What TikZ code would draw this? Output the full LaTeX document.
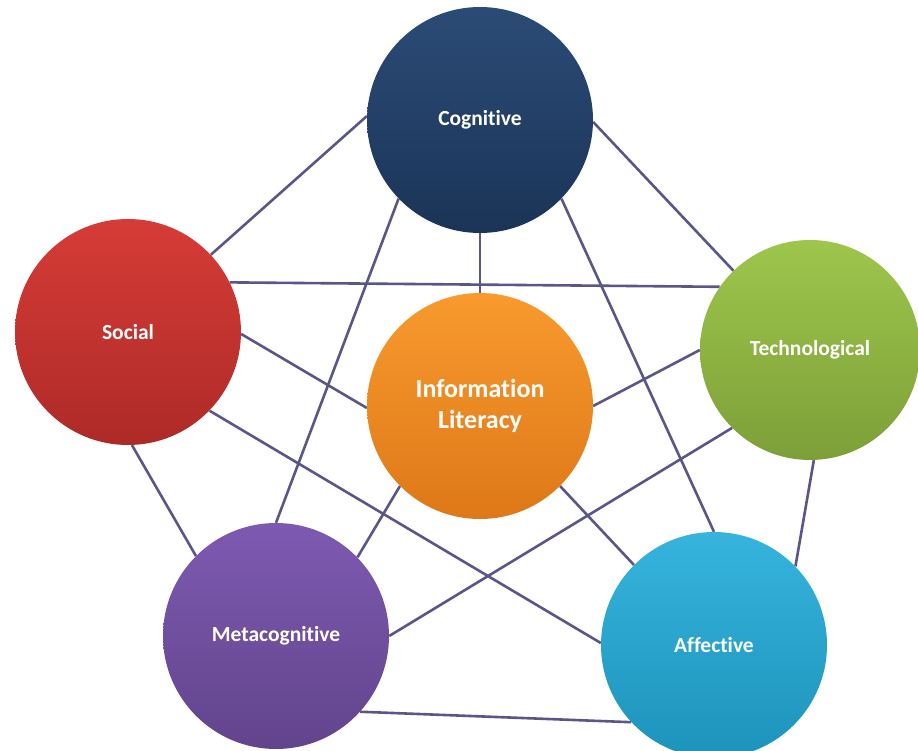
\documentclass[tikz,border=0pt]{standalone}
\usepackage{fontspec}
\setmainfont[Ligatures=NoCommon]{Carlito}
\usetikzlibrary{backgrounds}
\pgfdeclarelayer{bottom}
\pgfsetlayers{bottom,background,main}
\definecolor{linkc}{HTML}{5B5689}
\definecolor{cogT}{HTML}{2B4B76}
\definecolor{cogB}{HTML}{1B3457}
\definecolor{socT}{HTML}{D63C37}
\definecolor{socB}{HTML}{AE2A27}
\definecolor{tecT}{HTML}{9EC64C}
\definecolor{tecB}{HTML}{7D9F38}
\definecolor{infT}{HTML}{F89A2E}
\definecolor{infB}{HTML}{DE7818}
\definecolor{metT}{HTML}{7D5AB1}
\definecolor{metB}{HTML}{62448C}
\definecolor{affT}{HTML}{36B4DD}
\definecolor{affB}{HTML}{1D93BB}
\begin{document}
\begin{tikzpicture}[x=1pt,y=-1pt,
  bub/.style={circle, minimum size=226pt, inner sep=0pt, text=white,
    font=\bfseries\fontsize{21.5}{26}\selectfont, align=center},
  link/.style={draw=linkc, line width=2.6pt}]
\begin{pgfonlayer}{bottom}
\fill[white] (0,0) rectangle (918,751);
\end{pgfonlayer}
\useasboundingbox (0,0) rectangle (918,751);

\node[bub, top color=cogT, bottom color=cogB] (C) at (480,120) {Cognitive};
\node[bub, top color=socT, bottom color=socB] (S) at (128,332) {Social};
\node[bub, minimum size=220pt, top color=tecT, bottom color=tecB] (T) at (810,350) {Technological};
\node[bub, top color=infT, bottom color=infB,
  font=\bfseries\fontsize{26}{31}\selectfont] (I) at (480,406) {Information\\Literacy};
\node[bub, top color=metT, bottom color=metB] (M) at (276,636) {Metacognitive};
\node[bub, top color=affT, bottom color=affB] (A) at (714,645) {Affective};

\begin{scope}[on background layer]
\draw[link] (S.43) -- (C.178.5);
\draw[link] (S.26) -- (T.145.4);
\draw[link] (S.-1.5) -- (I.181);
\draw[link] (S.-44) -- (A.179);
\draw[link] (S.-88) -- (M.135.7);
\draw[link] (C.-1.5) -- (T.134.6);
\draw[link] (C.-90) -- (I.90);
\draw[link] (C.224) -- (M.90);
\draw[link] (C.-44) -- (A.90);
\draw[link] (T.180) -- (I.0);
\draw[link] (T.225) -- (M.0);
\draw[link] (T.-88.5) -- (A.44.7);
\draw[link] (I.225) -- (M.44.7);
\draw[link] (I.-45) -- (A.135);
\draw[link] (M.-42) -- (A.-137);
\end{scope}
\end{tikzpicture}
\end{document}
